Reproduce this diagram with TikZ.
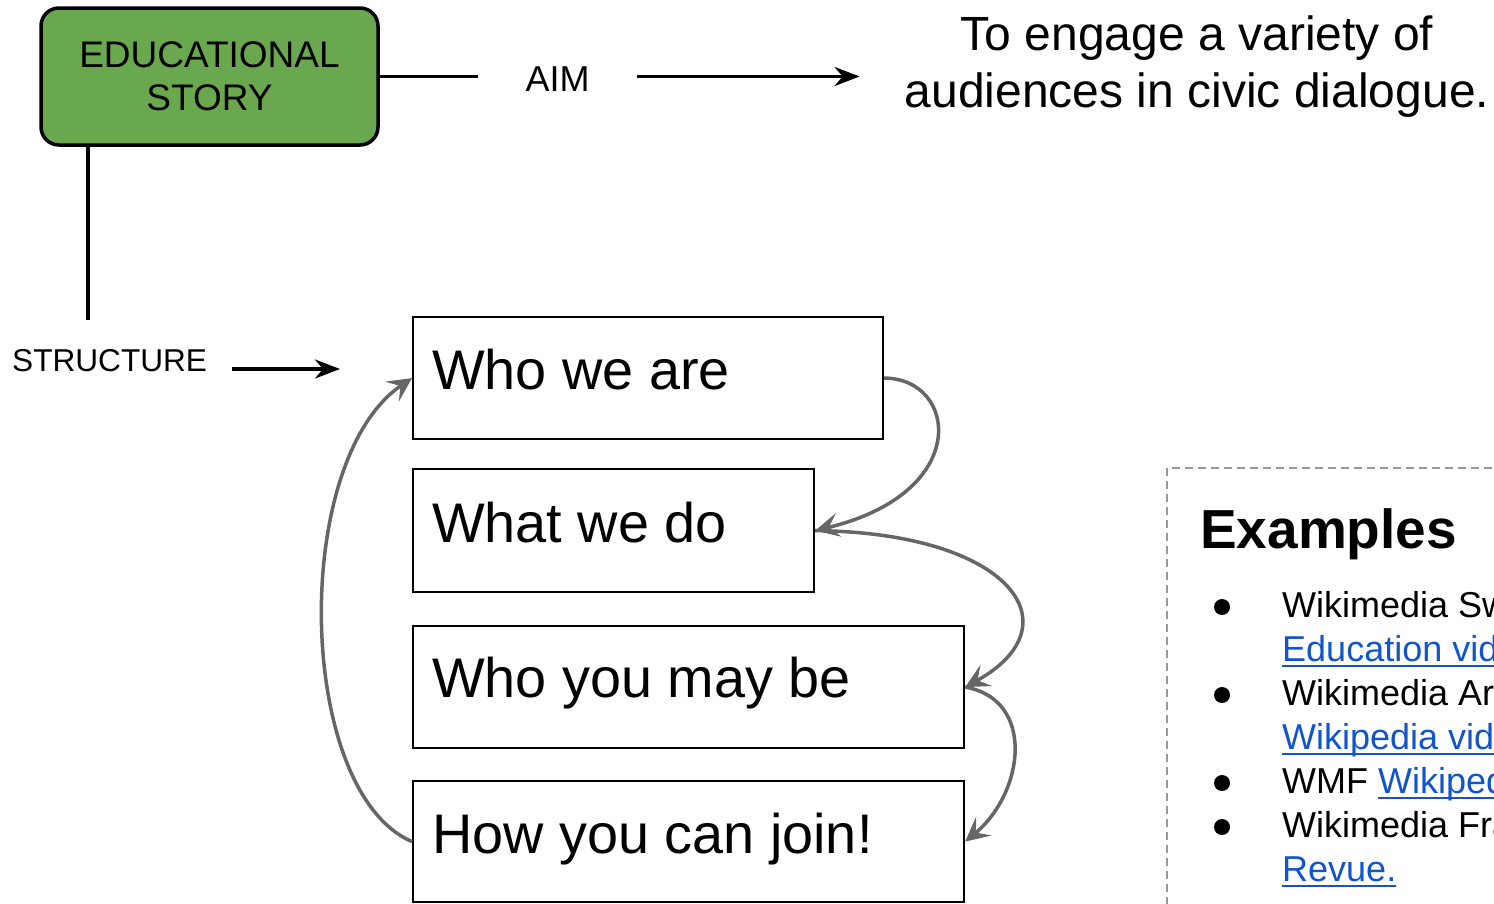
\documentclass[tikz,border=0pt]{standalone}
\usepackage{fontspec}
\setmainfont{Liberation Sans}
\usetikzlibrary{arrows.meta,calc}

\definecolor{storygreen}{HTML}{6AA84F}
\definecolor{flowgray}{HTML}{666666}
\definecolor{linkblue}{HTML}{1155CC}
\definecolor{panelgray}{HTML}{999999}

% underlined hyperlink look
\newcommand{\weblink}[1]{\begingroup\color{linkblue}\setbox0\hbox{#1}%
  \rlap{\rule[-6pt]{\wd0}{2pt}}\box0\endgroup}

\begin{document}
\begin{tikzpicture}[x=1pt,y=-1pt,
  story/.style={draw, line width=3.5pt, fill=storygreen, rounded corners=18pt,
    minimum width=337pt, minimum height=137pt, align=center, inner sep=0pt,
    font=\fontsize{37}{43}\selectfont},
  tag/.style={inner sep=0pt},
  stepbox/.style={draw, line width=2.2pt, anchor=north west, inner sep=0pt},
  boxtext/.style={anchor=base west, inner sep=0pt, font=\fontsize{55.8}{66}\selectfont},
  itemtext/.style={anchor=base west, inner sep=0pt, font=\fontsize{36}{44}\selectfont},
  solidline/.style={line width=3.5pt},
  pointer/.style={line width=3.5pt, -{Stealth[length=25pt,width=19pt,inset=8pt]}},
  flowloop/.style={flowgray, line width=3.5pt, -{Stealth[length=24pt,width=24pt,inset=10pt]}}]

\useasboundingbox (0,0) rectangle (1494,903);

% top: story block and its aim
\node[story] (story) at (209.5,76.5) {EDUCATIONAL\\STORY};
\node[tag, anchor=base, inner xsep=47.5pt, font=\fontsize{36}{43}\selectfont] (aim) at (557.5,91) {AIM};
\node[anchor=north, align=center, inner xsep=45pt, inner ysep=0pt,
  font=\fontsize{48}{57}\selectfont] (goal) at (1197,16)
  {To engage a variety of\\audiences in civic dialogue.};
\draw[solidline] (story.east) -- (story.east -| aim.west);
\draw[pointer] (story.east -| aim.east) -- (story.east -| goal.west);

% structure stem
\node[tag, anchor=base west, font=\fontsize{31.6}{37}\selectfont] (structure) at (12,371) {STRUCTURE};
\coordinate (stemend) at (88,320);
\draw[solidline] (story.south west -| stemend) -- (stemend);
\coordinate (sfrom) at (232,369);
\coordinate (sto) at (340,369);
\draw[pointer] (sfrom) -- (sto);

% the four steps
\node[stepbox, minimum width=470pt, minimum height=122pt] (b1) at (412,316) {};
\node[stepbox, minimum width=401pt, minimum height=123pt] (b2) at (412,468) {};
\node[stepbox, minimum width=551pt, minimum height=122pt] (b3) at (412,625) {};
\node[stepbox, minimum width=551pt, minimum height=121pt] (b4) at (412,780) {};
\node[boxtext] (t1) at ($(b1.north west)+(20,73)$) {Who we are};
\node[boxtext] (t2) at ($(b2.north west)+(20,74)$) {What we do};
\node[boxtext] (t3) at ($(b3.north west)+(20,72)$) {Who you may be};
\node[boxtext] (t4) at ($(b4.north west)+(20,73)$) {How you can join!};

% flow between the steps
\draw[flowloop] (b1.east) .. controls +(73,0) and +(158,-38) .. (b2.east);
\draw[flowloop] (b2.east) .. controls +(195,2) and +(112,-62) .. (b3.east);
\draw[flowloop] (b3.east) .. controls +(70,12) and +(60,-50) .. (b4.east);
\draw[flowloop] (b4.west) .. controls +(-116,-50) and +(-122,83) .. (b1.west);

% examples panel
\begin{scope}
  \clip (1150,455) rectangle (1494,903);
  \draw[panelgray, line width=1.5pt, dash pattern=on 8pt off 5pt] (1167,468) rectangle (1540,940);
  \node[anchor=base west, inner sep=0pt, font=\bfseries\fontsize{55}{66}\selectfont] (exhead) at (1200,548) {Examples};
  \fill (1222,607) circle (8pt);
  \fill (1222,695) circle (8pt);
  \fill (1222,783) circle (8pt);
  \fill (1222,827) circle (8pt);
  \node[itemtext] (e1) at (1282,617) {Wikimedia Switzerland};
  \node[itemtext] (e2) at (1282,661) {\weblink{Education video}};
  \node[itemtext] (e3) at (1282,705) {Wikimedia Argentina};
  \node[itemtext] (e4) at (1282,749) {\weblink{Wikipedia video}};
  \node[itemtext] (e5) at (1282,793) {WMF \weblink{Wikipedia video}};
  \node[itemtext] (e6) at (1282,837) {Wikimedia France};
  \node[itemtext] (e7) at (1282,881) {\weblink{Revue.}};
\end{scope}
\end{tikzpicture}
\end{document}
